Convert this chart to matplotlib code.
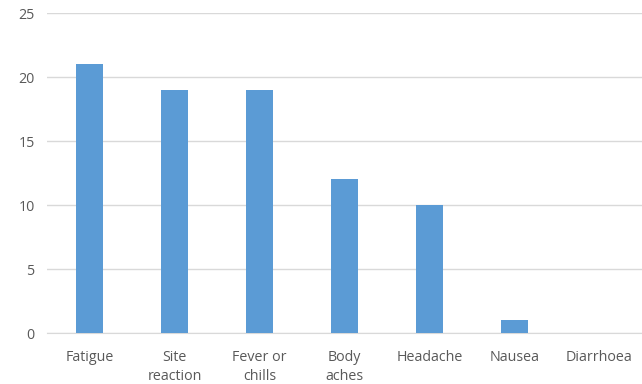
import matplotlib.pyplot as plt
import numpy as np

categories = ["Fatigue", "Site\nreaction", "Fever or\nchills", "Body\naches", "Headache", "Nausea", "Diarrhoea"]
counts = [21, 19, 19, 12, 10, 1, 0]
yticks = [0, 5, 10, 15, 20, 25]

plt.rcParams['font.family'] = ['Open Sans', 'DejaVu Sans']

fig = plt.figure(figsize=(6.42, 3.84), dpi=100)
ax = fig.add_axes([0.0732, 0.1328, 0.9268, 0.8333])

x = np.arange(len(categories))
ax.bar(x, counts, width=0.31, color="#5B9BD5", zorder=3)

ax.set_xlim(-0.5, len(categories) - 0.5)
ax.set_ylim(0, 25)
ax.set_yticks(yticks)
ax.set_xticks(x)
ax.set_xticklabels(categories, linespacing=1.35, va="top")

ax.yaxis.grid(True, color="#D9D9D9", linewidth=1, zorder=0)
for s in ["top", "right", "left"]:
    ax.spines[s].set_visible(False)
ax.spines["bottom"].set_color("#D9D9D9")
ax.tick_params(axis="both", length=0, colors="#595959", labelsize=10.3)
ax.tick_params(axis="x", pad=12)
ax.tick_params(axis="y", pad=9)

fig.savefig("out.png", dpi=100)
